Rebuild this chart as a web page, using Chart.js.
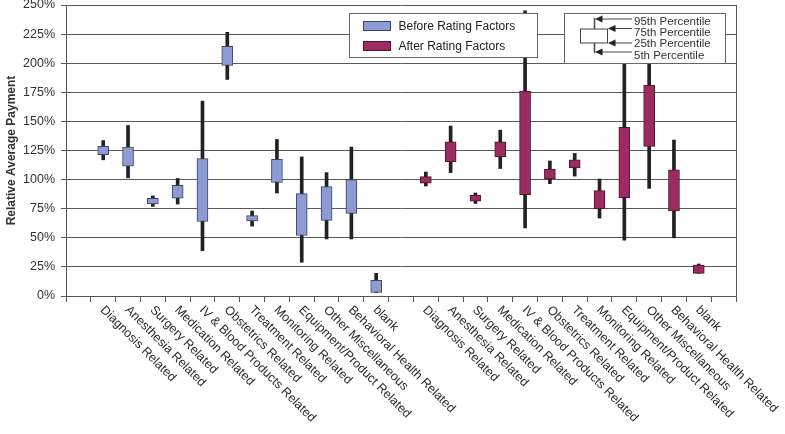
<!DOCTYPE html>
<html>
<head>
<meta charset="utf-8">
<script src="https://cdn.jsdelivr.net/npm/chart.js@4"></script>
<style>
  html, body { margin: 0; padding: 0; background: #fff; }
  #wrap { width: 785px; height: 434px; }
</style>
</head>
<body>
<div id="wrap"><canvas id="myChart"></canvas></div>
<script>
const categories = ['Diagnosis Related', 'Anesthesia Related', 'Surgery Related', 'Medication Related',
  'IV & Blood Products Related', 'Obstetrics Related', 'Treatment Related', 'Monitoring Related',
  'Equipment/Product Related', 'Other Miscellaneous', 'Behavioral Health Related', 'blank'];

// percentiles, in % of average payment
const before_p5  = [117, 101.5, 77, 79, 39, 186, 60, 88.5, 29, 49, 49, 3];
const before_p25 = [121.5, 111.5, 79, 84, 64, 198, 64.5, 97.5, 52, 65, 71, 3];
const before_p75 = [128.5, 128, 84, 95, 118, 214.5, 69, 117.5, 88, 94, 100, 13.5];
const before_p95 = [133.5, 146.5, 86, 101, 167.5, 226.5, 73, 134.5, 119.5, 106, 128, 19.5];

const after_p5  = [94.5, 106, 79.5, 109.5, 58.5, 96.5, 103, 67, 48, 92.5, 50, 19.5];
const after_p25 = [97, 115.5, 81.5, 119.5, 87, 100.5, 110, 75, 84.5, 128.5, 73, 19.5];
const after_p75 = [102.5, 132.5, 86.5, 132.5, 176, 109, 117, 90.5, 145, 181, 108.5, 26.5];
const after_p95 = [106.5, 146, 88.5, 142.5, 245, 116, 122.5, 100.5, 215, 225, 134, 27.5];

const percentileLabels = ['95th Percentile', '75th Percentile', '25th Percentile', '5th Percentile'];

// 27 slots: empty, 12 before, empty, 12 after, empty
const slots = [''].concat(categories, [''], categories, ['']);
const pad = (arr) => [null].concat(arr, [null], arr.map(() => null), [null]);
const padAfter = (arr) => [null].concat(arr.map(() => null), [null], arr, [null]);

const beforeBoxes = pad(before_p25.map((v, i) => [v, before_p75[i]]));
const afterBoxes = padAfter(after_p25.map((v, i) => [v, after_p75[i]]));
const whiskers = [null].concat(
  before_p5.map((v, i) => [v, before_p95[i]]), [null],
  after_p5.map((v, i) => [v, after_p95[i]]), [null]);

const FONT = '"Liberation Sans", Arial, sans-serif';

const extras = {
  id: 'extras',
  afterDraw(chart) {
    const ctx = chart.ctx;
    const area = chart.chartArea;
    const xs = chart.scales.x;
    ctx.save();

    // right frame line
    ctx.strokeStyle = '#555';
    ctx.lineWidth = 1;
    ctx.beginPath();
    ctx.moveTo(Math.round(area.right) + 0.5, area.top);
    ctx.lineTo(Math.round(area.right) + 0.5, area.bottom);
    ctx.stroke();

    // slanted category labels
    ctx.fillStyle = '#2a2a2a';
    ctx.font = '12.5px ' + FONT;
    ctx.textAlign = 'left';
    ctx.textBaseline = 'middle';
    slots.forEach((lab, i) => {
      if (!lab) return;
      const x = xs.getPixelForValue(i);
      ctx.save();
      ctx.translate(x - 1, xs.top + 12);
      ctx.rotate(Math.PI / 4);
      ctx.fillText(lab, 0, 0);
      ctx.restore();
    });

    // legend for the two series
    const ds = chart.data.datasets;
    const lx = 349.5, ly = 13.5;
    ctx.fillStyle = '#fff';
    ctx.fillRect(lx, ly, 188, 44);
    ctx.strokeStyle = '#666';
    ctx.strokeRect(lx, ly, 188, 44);
    ctx.font = '12px ' + FONT;
    [0, 1].forEach(k => {
      const y = ly + 8 + k * 20;
      ctx.fillStyle = ds[k].backgroundColor;
      ctx.fillRect(lx + 14, y, 27, 9);
      ctx.strokeStyle = ds[k].borderColor;
      ctx.strokeRect(lx + 14, y, 27, 9);
      ctx.fillStyle = '#222';
      ctx.fillText(ds[k].label, lx + 49, y + 5);
    });

    // percentile key
    const bx = 564.5, by = 13.5;
    ctx.fillStyle = '#fff';
    ctx.fillRect(bx, by, 161, 50);
    ctx.strokeStyle = '#666';
    ctx.strokeRect(bx, by, 161, 50);
    ctx.strokeStyle = '#444';
    ctx.lineWidth = 1.5;
    const vx = 594.5;
    ctx.beginPath();
    ctx.moveTo(vx, 18); ctx.lineTo(vx, 29);
    ctx.moveTo(vx, 43); ctx.lineTo(vx, 53);
    ctx.stroke();
    ctx.lineWidth = 1;
    ctx.strokeRect(580.5, 29, 27, 14);
    const arrows = [[19, vx], [28.5, 607.5], [43, 607.5], [52, vx]];
    arrows.forEach(([y, tx]) => {
      ctx.strokeStyle = '#444';
      ctx.beginPath();
      ctx.moveTo(632, y); ctx.lineTo(tx + 4, y);
      ctx.stroke();
      ctx.fillStyle = '#222';
      ctx.beginPath();
      ctx.moveTo(tx + 0.5, y);
      ctx.lineTo(tx + 8, y - 3.5);
      ctx.lineTo(tx + 8, y + 3.5);
      ctx.closePath();
      ctx.fill();
    });
    ctx.fillStyle = '#333';
    ctx.font = '11.5px ' + FONT;
    const ty = [21.5, 32.5, 44, 56];
    percentileLabels.forEach((t, i) => ctx.fillText(t, 634, ty[i]));

    ctx.restore();
  }
};

const ctx = document.getElementById('myChart');

new Chart(ctx, {
  type: 'bar',
  data: {
    labels: slots,
    datasets: [{
      label: 'Before Rating Factors',
      data: beforeBoxes,
      backgroundColor: '#8d9bd5',
      borderColor: '#3f4466',
      borderWidth: 1,
      borderSkipped: false,
      barThickness: 11,
      grouped: false
    }, {
      label: 'After Rating Factors',
      data: afterBoxes,
      backgroundColor: '#9b2c5f',
      borderColor: '#4d1330',
      borderWidth: 1,
      borderSkipped: false,
      barThickness: 11,
      grouped: false
    }, {
      label: 'range',
      data: whiskers,
      backgroundColor: '#222',
      borderWidth: 0,
      barThickness: 3,
      grouped: false
    }]
  },
  options: {
    responsive: true,
    maintainAspectRatio: false,
    animation: false,
    layout: { padding: { top: 5, right: 49, left: 0, bottom: 0 } },
    plugins: {
      legend: { display: false },
      tooltip: { enabled: false }
    },
    scales: {
      x: {
        ticks: { display: false },
        grid: { display: true, drawOnChartArea: false, drawTicks: true, tickLength: 6, color: '#555' },
        border: { display: true, color: '#555' },
        afterFit(scale) { scale.height = 138; }
      },
      y: {
        min: 0,
        max: 250,
        ticks: {
          stepSize: 25,
          callback: v => v + '%',
          color: '#333',
          padding: 6,
          font: { family: FONT, size: 12.5 }
        },
        grid: { color: '#5a5a5a', tickLength: 5 },
        border: { display: true, color: '#555' },
        title: {
          display: true,
          text: 'Relative Average Payment',
          color: '#333',
          font: { family: FONT, size: 12, weight: 'bold' }
        },
        afterFit(scale) {
          scale.width = 66;
          scale.paddingTop = 0;
          scale.paddingBottom = 0;
        }
      }
    }
  },
  plugins: [extras]
});
</script>
</body>
</html>
